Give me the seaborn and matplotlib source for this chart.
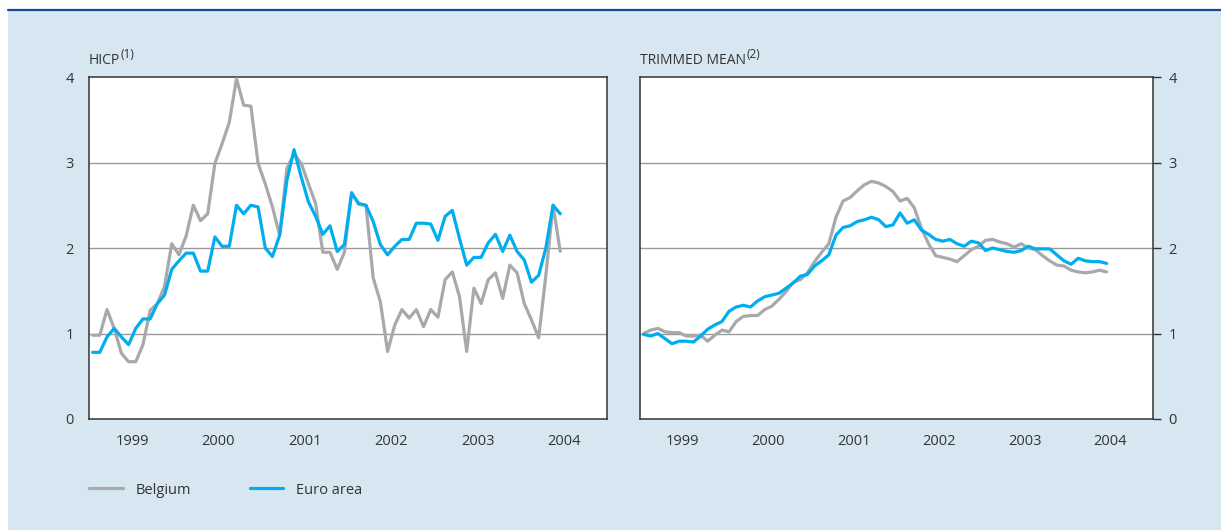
import numpy as np
import pandas as pd
import seaborn as sns
import matplotlib.pyplot as plt
import matplotlib.transforms as mtransforms
from matplotlib.lines import Line2D
from matplotlib.patches import Rectangle

# monthly data, Jan 1999 - Jun 2004
hicp_belgium = [0.98, 0.98, 1.28, 1.06, 0.77, 0.67, 0.67, 0.87, 1.27, 1.35, 1.55, 2.05,
                1.92, 2.14, 2.50, 2.32, 2.40, 2.99, 3.22, 3.47, 3.98, 3.67, 3.66, 2.99,
                2.75, 2.48, 2.15, 2.93, 3.10, 2.99, 2.75, 2.52, 1.95, 1.95, 1.75, 1.95,
                2.65, 2.51, 2.50, 1.65, 1.37, 0.79, 1.10, 1.28, 1.18, 1.28, 1.08, 1.28,
                1.19, 1.63, 1.72, 1.43, 0.79, 1.53, 1.35, 1.63, 1.71, 1.41, 1.80, 1.71,
                1.35, 1.16, 0.95, 1.68, 2.50, 1.96]
hicp_euro = [0.78, 0.78, 0.96, 1.06, 0.96, 0.87, 1.06, 1.17, 1.17, 1.35, 1.45, 1.75,
             1.85, 1.94, 1.94, 1.73, 1.73, 2.13, 2.02, 2.02, 2.50, 2.40, 2.50, 2.48,
             2.00, 1.90, 2.15, 2.79, 3.15, 2.83, 2.54, 2.37, 2.16, 2.26, 1.96, 2.04,
             2.64, 2.52, 2.50, 2.31, 2.04, 1.92, 2.02, 2.10, 2.10, 2.29, 2.29, 2.28,
             2.09, 2.37, 2.44, 2.11, 1.80, 1.89, 1.89, 2.06, 2.16, 1.96, 2.15, 1.96,
             1.86, 1.60, 1.68, 2.00, 2.50, 2.40]
trim_belgium = [1.00, 1.04, 1.06, 1.02, 1.01, 1.01, 0.97, 0.97, 0.98, 0.91, 0.98, 1.04,
                1.02, 1.14, 1.20, 1.21, 1.21, 1.28, 1.32, 1.40, 1.49, 1.60, 1.63, 1.71,
                1.84, 1.95, 2.05, 2.36, 2.55, 2.59, 2.67, 2.74, 2.78, 2.76, 2.72, 2.66,
                2.55, 2.58, 2.47, 2.23, 2.05, 1.91, 1.89, 1.87, 1.84, 1.91, 1.98, 2.02,
                2.09, 2.10, 2.07, 2.05, 2.01, 2.05, 2.00, 1.98, 1.91, 1.85, 1.80, 1.79,
                1.74, 1.72, 1.71, 1.72, 1.74, 1.72]
trim_euro = [0.99, 0.97, 1.00, 0.94, 0.88, 0.91, 0.91, 0.90, 0.97, 1.05, 1.10, 1.14,
             1.26, 1.31, 1.33, 1.31, 1.38, 1.43, 1.45, 1.47, 1.53, 1.59, 1.67, 1.69,
             1.79, 1.85, 1.92, 2.15, 2.24, 2.26, 2.31, 2.33, 2.36, 2.33, 2.25, 2.27,
             2.41, 2.29, 2.33, 2.21, 2.16, 2.10, 2.08, 2.10, 2.05, 2.02, 2.08, 2.06,
             1.97, 2.00, 1.98, 1.96, 1.95, 1.97, 2.02, 1.99, 1.99, 1.99, 1.92, 1.85,
             1.81, 1.88, 1.85, 1.84, 1.84, 1.82]

years = [1999, 2000, 2001, 2002, 2003, 2004]
series_names = ['Belgium', 'Euro area']
colors = {'Belgium': '#a7a9ac', 'Euro area': '#00aeef'}

# decimal time at mid-month
t = 1999 + (np.arange(len(hicp_belgium)) + 0.5) / 12


def make_long(be, ea):
    return pd.concat([
        pd.DataFrame({'t': t, 'value': be, 'series': 'Belgium'}),
        pd.DataFrame({'t': t, 'value': ea, 'series': 'Euro area'}),
    ])


df_hicp = make_long(hicp_belgium, hicp_euro)
df_trim = make_long(trim_belgium, trim_euro)

sns.set_style('white')
plt.rcParams['font.family'] = ['Open Sans', 'DejaVu Sans']

W, H = 1221, 530
fig = plt.figure(figsize=(W / 100, H / 100), dpi=100)
fig.patch.set_facecolor('white')

bg = '#d6e7f1'
fig.patches.append(Rectangle((8 / W, 0), 1 - 8 / W, 1 - 10 / H, transform=fig.transFigure,
                             facecolor=bg, edgecolor='none', zorder=-10))
fig.lines.append(Line2D([8 / W, 1], [1 - 10 / H, 1 - 10 / H], transform=fig.transFigure,
                        color='#104f98', lw=1.6, zorder=-9))

ax1 = fig.add_axes([89 / W, 111 / H, 518 / W, 342 / H])
ax2 = fig.add_axes([640 / W, 111 / H, 513 / W, 342 / H])

txt = '#333333'
shift = mtransforms.ScaledTranslation(-4 / 100, 0, fig.dpi_scale_trans)
for ax, df in [(ax1, df_hicp), (ax2, df_trim)]:
    ax.set_facecolor('white')
    sns.lineplot(data=df, x='t', y='value', hue='series', palette=colors,
                 linewidth=2.3, ax=ax, legend=False, zorder=3)
    ax.set_xlim(1999, 2005)
    ax.set_ylim(0, 4)
    ax.set_yticks([0, 1, 2, 3, 4])
    for v in [1, 2, 3]:
        ax.axhline(v, color='#9a9a9a', lw=1.0, zorder=1)
    ax.set_xticks([2000, 2001, 2002, 2003, 2004])
    ax.set_xticklabels([])
    ax.set_xticks([y + 0.5 for y in years], minor=True)
    ax.set_xticklabels([str(y) for y in years], minor=True)
    for lab in ax.get_xticklabels(minor=True):
        lab.set_transform(lab.get_transform() + shift)
    ax.tick_params(axis='x', which='major', direction='in', length=6, width=1, color='#333333')
    ax.tick_params(axis='x', which='minor', length=0, pad=11, labelsize=10.5, labelcolor=txt)
    ax.tick_params(axis='y', direction='out', length=6, width=1, color='#333333',
                   labelsize=10.5, labelcolor=txt, pad=5)
    ax.set_xlabel('')
    ax.set_ylabel('')
    for s in ax.spines.values():
        s.set_visible(True)
        s.set_color('#333333')
        s.set_linewidth(1.1)

ax2.yaxis.tick_right()
ax2.tick_params(axis='y', direction='out', length=6, width=1, color='#333333',
                labelsize=10.5, labelcolor=txt, pad=5)

# panel titles with superscript notes
fig.canvas.draw()
renderer = fig.canvas.get_renderer()
for x0, title, note in [(89, 'HICP', '(1)'), (640, 'TRIMMED MEAN', '(2)')]:
    t_main = fig.text(x0 / W, 1 - 64 / H, title, fontsize=10, color=txt,
                      va='baseline', ha='left')
    ext = t_main.get_window_extent(renderer)
    fig.text((ext.x1 + 0.5) / W, 1 - 58 / H, note, fontsize=8.5, color=txt,
             va='baseline', ha='left')

handles = [Line2D([], [], color=colors[n], lw=2.3) for n in series_names]
fig.legend(handles, series_names, loc='center left', bbox_to_anchor=(76 / W, 1 - 490 / H),
           ncol=2, frameon=False, fontsize=10.5, labelcolor=txt, handlelength=2.3,
           handletextpad=0.9, columnspacing=4.0)

fig.savefig('out.png', dpi=100, facecolor=fig.get_facecolor())
